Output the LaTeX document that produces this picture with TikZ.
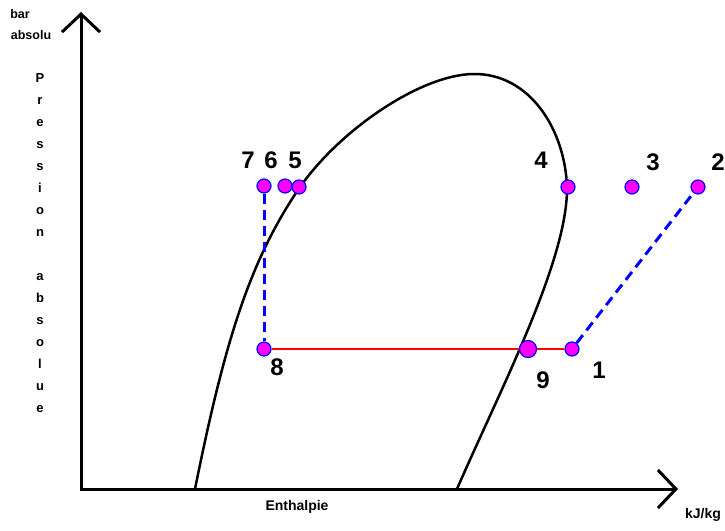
\documentclass[tikz,border=0pt]{standalone}
\usepackage{fontspec}
\setmainfont{Liberation Sans}
\usetikzlibrary{arrows.meta}
\definecolor{rose}{RGB}{255,0,255}
\definecolor{bleu}{RGB}{0,0,255}
\definecolor{rouge}{RGB}{255,0,0}
\tikzset{
  etat/.style={circle, fill=rose, draw=bleu, line width=1.2pt, minimum size=14pt, inner sep=0pt},
  numero/.style={font=\fontsize{24}{24}\selectfont\bfseries, inner sep=0pt},
  petit/.style={font=\fontsize{12.5}{12.5}\selectfont\bfseries, inner sep=0pt},
  pointe/.tip={Straight Barb[length=18pt, width=38pt]},
}
\begin{document}
\begin{tikzpicture}[x=1pt, y=-1pt]
\useasboundingbox (0,0) rectangle (725,530);
% Axes
\draw[line width=3pt, pointe-pointe] (81,12) -- (81,489) -- (678,489);
\node[petit] (bar) at (20,14) {bar};
\node[petit] (absolu) at (31,35) {absolu};
\node[font=\fontsize{13}{22}\selectfont\bfseries, align=center, inner sep=0pt] (pression) at (40,243)
  {P\\r\\e\\s\\s\\i\\o\\n\\ \\a\\b\\s\\o\\l\\u\\e};
\node[font=\fontsize{14}{14}\selectfont\bfseries] (enthalpie) at (297,507) {Enthalpie};
\node[font=\fontsize{14}{14}\selectfont\bfseries] (kjkg) at (703,515) {kJ/kg};
% Courbe de saturation
\draw[line width=2.5pt] (195,489) .. controls (225,340) and (250,260) .. (300,187)
  .. controls (340,130) and (420,75) .. (473,74)
  .. controls (530,73) and (565,130) .. (567,187)
  .. controls (568,260) and (500,390) .. (457,489);
% Etats du cycle
\node[etat] (p7) at (264,186) {};
\node[etat] (p6) at (285,186) {};
\node[etat] (p5) at (299,187) {};
\node[etat] (p4) at (568,187) {};
\node[etat] (p3) at (632,187) {};
\node[etat] (p2) at (698,187) {};
\node[etat] (p8) at (264,349) {};
\node[etat, minimum size=17pt] (p9) at (528,349) {};
\node[etat] (p1) at (572,349) {};
% Transformations
\draw[rouge, line width=2.2pt] (p8) -- (p9);
\draw[rouge, line width=2.2pt] (p9) -- (p1);
\draw[bleu, line width=3pt, dash pattern=on 10pt off 6pt] (p7) -- (p8);
\draw[bleu, line width=3pt, dash pattern=on 10pt off 6pt] (p1) -- (p2);
% Numeros
\node[numero] (n7) at (248,160) {7};
\node[numero] (n6) at (271,160) {6};
\node[numero] (n5) at (295,160) {5};
\node[numero] (n4) at (541,160) {4};
\node[numero] (n3) at (653,162) {3};
\node[numero] (n2) at (718,162) {2};
\node[numero] (n8) at (277,367) {8};
\node[numero] (n9) at (543,380) {9};
\node[numero] (n1) at (599,370) {1};
\end{tikzpicture}
\end{document}
